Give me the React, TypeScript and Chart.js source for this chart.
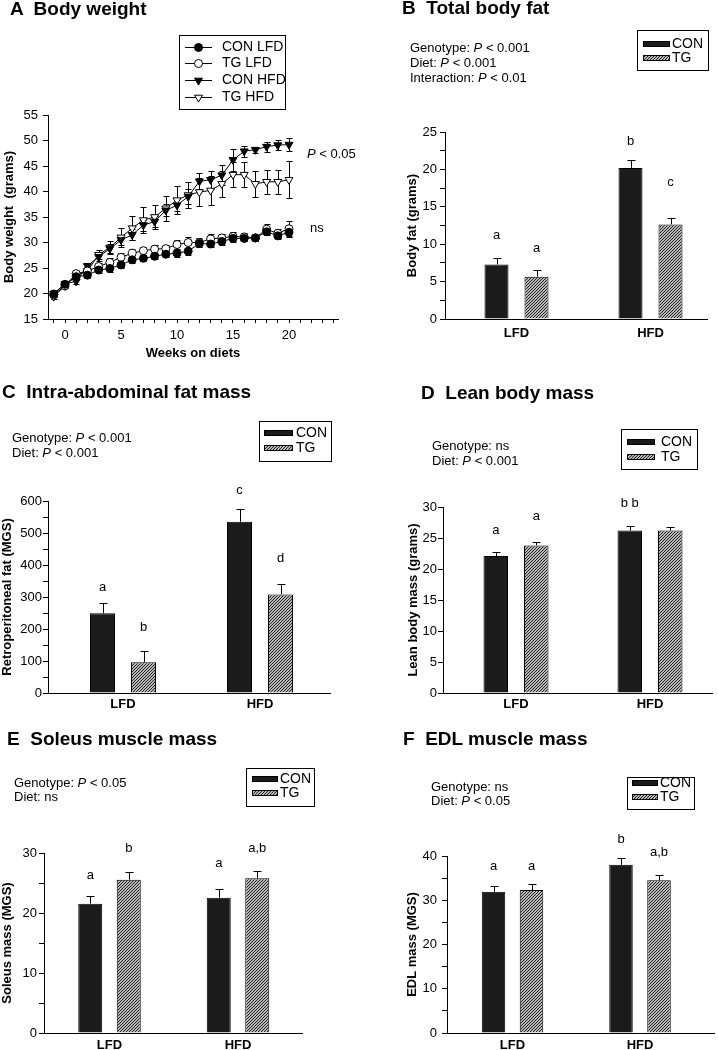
import React, { useEffect, useRef } from 'react';
import { Chart, registerables } from 'chart.js';

Chart.register(...registerables);

const FONT = '"Liberation Sans", Arial, Helvetica, sans-serif';
const CON_FILL = '#1b1b1b';

// ---------------- Panel A: body weight (line chart) ----------------
const WEEKS = [-1, 0, 1, 2, 3, 4, 5, 6, 7, 8, 9, 10, 11, 12, 13, 14, 15, 16, 17, 18, 19, 20];
const BW_CON_LFD = [19.9, 21.8, 23.3, 23.6, 24.6, 24.9, 25.6, 26.6, 26.9, 27.3, 27.7, 27.9, 28.3, 29.8, 29.7, 30.2, 30.8, 30.8, 30.9, 32.1, 31.3, 32.0];
const BW_CON_LFD_SEM = [0.4, 0.4, 0.5, 0.5, 0.6, 0.6, 0.6, 0.6, 0.6, 0.6, 0.6, 0.7, 0.7, 0.7, 0.6, 0.6, 0.7, 0.6, 0.6, 0.7, 0.7, 0.8];
const BW_TG_LFD = [19.7, 21.5, 23.9, 24.4, 25.3, 26.1, 27.1, 27.9, 28.4, 28.7, 28.8, 29.6, 30.0, 30.0, 30.7, 30.9, 31.2, 31.1, 30.9, 32.6, 31.8, 32.7];
const BW_TG_LFD_SEM = [0.4, 0.5, 0.6, 0.6, 0.7, 0.8, 0.9, 0.9, 0.8, 0.9, 0.8, 0.9, 1.0, 0.9, 0.9, 0.8, 0.8, 0.8, 0.7, 1.0, 0.9, 1.6];
const BW_CON_HFD = [20.0, 21.9, 22.4, 25.4, 27.2, 28.8, 30.5, 31.5, 33.4, 34.1, 36.3, 37.3, 39.0, 42.0, 42.3, 43.2, 46.2, 47.9, 48.2, 48.8, 49.1, 49.2];
const BW_CON_HFD_SEM = [0.3, 0.4, 0.6, 0.6, 0.8, 0.9, 1.0, 1.1, 1.1, 1.1, 1.2, 1.2, 1.4, 1.6, 1.8, 2.0, 2.2, 1.1, 0.6, 1.0, 1.0, 1.3];
const BW_TG_HFD = [19.4, 21.5, 23.5, 24.4, 27.6, 29.0, 31.0, 32.8, 34.4, 35.0, 36.7, 38.3, 39.3, 39.9, 40.2, 41.5, 43.3, 43.3, 41.5, 41.9, 41.9, 42.3];
const BW_TG_HFD_SEM = [0.4, 0.5, 0.5, 0.7, 0.9, 1.2, 1.8, 2.3, 2.5, 2.4, 2.5, 2.8, 2.6, 2.8, 2.8, 2.5, 2.4, 2.5, 2.6, 2.3, 2.4, 3.6];
const BW_SERIES_NAMES = ['CON LFD', 'TG LFD', 'CON HFD', 'TG HFD'];
const BW_X_TICKS = [-1, 0, 1, 2, 3, 4, 5, 6, 7, 8, 9, 10, 11, 12, 13, 14, 15, 16, 17, 18, 19, 20, 21, 22, 23, 24];
const BW_X_LABELS = [0, 5, 10, 15, 20];
const BW_Y_TICKS = [15, 20, 25, 30, 35, 40, 45, 50, 55];
const BW_X_TITLE = 'Weeks on diets';
const BW_Y_TITLE = 'Body weight  (grams)';

// ---------------- Bar panels ----------------
const DIETS = ['LFD', 'HFD'];
const GROUPS = ['CON', 'TG'];

// B: total body fat
const FAT_CON = [7.3, 20.2];
const FAT_CON_SEM = [0.9, 1.05];
const FAT_TG = [5.65, 12.65];
const FAT_TG_SEM = [0.9, 0.9];
const FAT_CON_LETTERS = ['a', 'b'];
const FAT_TG_LETTERS = ['a', 'c'];
const FAT_CON_LETTER_AT = [11.2, 23.7];
const FAT_TG_LETTER_AT = [9.5, 18.2];
const FAT_Y_TICKS = [0, 2.5, 5, 7.5, 10, 12.5, 15, 17.5, 20, 22.5, 25];
const FAT_Y_LABELS = [0, 5, 10, 15, 20, 25];
const FAT_STATS = [['Genotype', '< 0.001'], ['Diet', '< 0.001'], ['Interaction', '< 0.01']];

// C: retroperitoneal fat
const RP_CON = [249, 535];
const RP_CON_SEM = [31, 39];
const RP_TG = [96, 308];
const RP_TG_SEM = [35, 34];
const RP_CON_LETTERS = ['a', 'c'];
const RP_TG_LETTERS = ['b', 'd'];
const RP_CON_LETTER_AT = [331, 634];
const RP_TG_LETTER_AT = [206, 422];
const RP_Y_TICKS = [0, 50, 100, 150, 200, 250, 300, 350, 400, 450, 500, 550, 600];
const RP_Y_LABELS = [0, 100, 200, 300, 400, 500, 600];
const RP_STATS = [['Genotype', '< 0.001'], ['Diet', '< 0.001']];

// D: lean body mass
const LEAN_CON = [22.1, 26.2];
const LEAN_CON_SEM = [0.6, 0.7];
const LEAN_TG = [23.8, 26.2];
const LEAN_TG_SEM = [0.5, 0.5];
const LEAN_CON_LETTERS = ['a', 'b b'];
const LEAN_TG_LETTERS = ['a', ''];
const LEAN_CON_LETTER_AT = [26.3, 30.5];
const LEAN_TG_LETTER_AT = [28.5, 0];
const LEAN_Y_TICKS = [0, 5, 10, 15, 20, 25, 30];
const LEAN_Y_LABELS = [0, 5, 10, 15, 20, 25, 30];
const LEAN_STATS = [['Genotype', 'ns'], ['Diet', '< 0.001']];

// E: soleus
const SOL_CON = [21.55, 22.55];
const SOL_CON_SEM = [1.35, 1.5];
const SOL_TG = [25.55, 25.8];
const SOL_TG_SEM = [1.35, 1.2];
const SOL_CON_LETTERS = ['a', 'a'];
const SOL_TG_LETTERS = ['b', 'a,b'];
const SOL_CON_LETTER_AT = [26.2, 28.3];
const SOL_TG_LETTER_AT = [30.7, 30.7];
const SOL_Y_TICKS = [0, 5, 10, 15, 20, 25, 30];
const SOL_Y_LABELS = [0, 10, 20, 30];
const SOL_STATS = [['Genotype', '< 0.05'], ['Diet', 'ns']];

// F: EDL
const EDL_CON = [31.9, 38.0];
const EDL_CON_SEM = [1.4, 1.6];
const EDL_TG = [32.3, 34.5];
const EDL_TG_SEM = [1.4, 1.2];
const EDL_CON_LETTERS = ['a', 'b'];
const EDL_TG_LETTERS = ['a', 'a,b'];
const EDL_CON_LETTER_AT = [37.7, 43.8];
const EDL_TG_LETTER_AT = [37.7, 40.7];
const EDL_Y_TICKS = [0, 5, 10, 15, 20, 25, 30, 35, 40];
const EDL_Y_LABELS = [0, 10, 20, 30, 40];
const EDL_STATS = [['Genotype', 'ns'], ['Diet', '< 0.05']];

// ---------------- Layout (page pixel coordinates) ----------------
const LAYOUT_A = {
  canvas: { x: 0, y: 0, w: 359, h: 372 },
  area: { l: 48, r: 338, t: 115, b: 319 },
  week0X: 65,
  weekPx: 11.2,
  yTitleX: 9,
  xTitleY: 353,
  xLabelY: 335,
  legend: { box: [179, 35, 106, 74], rows: [47, 63, 80, 97], patchX: 185, patchW: 27, textX: 222 },
};

const LAYOUT_B = {
  canvas: { x: 359, y: 0, w: 359, h: 350 },
  area: { l: 445, r: 707, t: 132, b: 319 },
  centers: [516.5, 650.5], chunk: 40, barW: 24, yTitleX: 412, tickPad: 3, xLabelY: 333,
  legend: { box: [637, 30, 71, 40], rows: [44, 58], patchX: 643, patchW: 27, textX: 672 },
};
const LAYOUT_C = {
  canvas: { x: 0, y: 372, w: 359, h: 348 },
  area: { l: 48, r: 330, t: 501, b: 693 },
  centers: [123, 260], chunk: 41, barW: 25, yTitleX: 7, tickPad: 1, xLabelY: 704,
  legend: { box: [259, 421, 72, 40], rows: [433, 448], patchX: 264, patchW: 29, textX: 296 },
};
const LAYOUT_D = {
  canvas: { x: 359, y: 350, w: 359, h: 370 },
  area: { l: 443, r: 712, t: 507, b: 693 },
  centers: [516, 650], chunk: 40.5, barW: 24.5, yTitleX: 413, tickPad: 1, xLabelY: 704,
  legend: { box: [621, 429, 76, 40], rows: [442, 457], patchX: 627, patchW: 28, textX: 661 },
};
const LAYOUT_E = {
  canvas: { x: 0, y: 720, w: 359, h: 330 },
  area: { l: 44, r: 302, t: 853, b: 1033 },
  centers: [109.5, 238], chunk: 38.5, barW: 24, yTitleX: 7, tickPad: 2, xLabelY: 1045,
  legend: { box: [246, 768, 68, 38], rows: [779, 793], patchX: 252, patchW: 26, textX: 280 },
};
const LAYOUT_F = {
  canvas: { x: 359, y: 720, w: 359, h: 330 },
  area: { l: 447, r: 714, t: 856, b: 1033 },
  centers: [512.5, 640], chunk: 38, barW: 23.5, yTitleX: 412, tickPad: 5, xLabelY: 1045,
  legend: { box: [627, 777, 67, 32], rows: [783, 797], patchX: 632, patchW: 26, textX: 660 },
};

const BAR_PANELS = [
  {
    key: 'B', layout: LAYOUT_B, yTitle: 'Body fat (grams)', yTicks: FAT_Y_TICKS, yLabels: FAT_Y_LABELS,
    con: FAT_CON, conSem: FAT_CON_SEM, conLetters: FAT_CON_LETTERS, conLetterAt: FAT_CON_LETTER_AT,
    tg: FAT_TG, tgSem: FAT_TG_SEM, tgLetters: FAT_TG_LETTERS, tgLetterAt: FAT_TG_LETTER_AT,
  },
  {
    key: 'C', layout: LAYOUT_C, yTitle: 'Retroperitoneal fat (MGS)', yTicks: RP_Y_TICKS, yLabels: RP_Y_LABELS,
    con: RP_CON, conSem: RP_CON_SEM, conLetters: RP_CON_LETTERS, conLetterAt: RP_CON_LETTER_AT,
    tg: RP_TG, tgSem: RP_TG_SEM, tgLetters: RP_TG_LETTERS, tgLetterAt: RP_TG_LETTER_AT,
  },
  {
    key: 'D', layout: LAYOUT_D, yTitle: 'Lean body mass (grams)', yTicks: LEAN_Y_TICKS, yLabels: LEAN_Y_LABELS,
    con: LEAN_CON, conSem: LEAN_CON_SEM, conLetters: LEAN_CON_LETTERS, conLetterAt: LEAN_CON_LETTER_AT,
    tg: LEAN_TG, tgSem: LEAN_TG_SEM, tgLetters: LEAN_TG_LETTERS, tgLetterAt: LEAN_TG_LETTER_AT,
  },
  {
    key: 'E', layout: LAYOUT_E, yTitle: 'Soleus mass (MGS)', yTicks: SOL_Y_TICKS, yLabels: SOL_Y_LABELS,
    con: SOL_CON, conSem: SOL_CON_SEM, conLetters: SOL_CON_LETTERS, conLetterAt: SOL_CON_LETTER_AT,
    tg: SOL_TG, tgSem: SOL_TG_SEM, tgLetters: SOL_TG_LETTERS, tgLetterAt: SOL_TG_LETTER_AT,
  },
  {
    key: 'F', layout: LAYOUT_F, yTitle: 'EDL mass (MGS)', yTicks: EDL_Y_TICKS, yLabels: EDL_Y_LABELS,
    con: EDL_CON, conSem: EDL_CON_SEM, conLetters: EDL_CON_LETTERS, conLetterAt: EDL_CON_LETTER_AT,
    tg: EDL_TG, tgSem: EDL_TG_SEM, tgLetters: EDL_TG_LETTERS, tgLetterAt: EDL_TG_LETTER_AT,
  },
];

const TITLES = [
  { text: 'A  Body weight', x: 10, base: 15 },
  { text: 'B  Total body fat', x: 402, base: 14 },
  { text: 'C  Intra-abdominal fat mass', x: 2, base: 398 },
  { text: 'D  Lean body mass', x: 421, base: 399 },
  { text: 'E  Soleus muscle mass', x: 7, base: 745 },
  { text: 'F  EDL muscle mass', x: 403, base: 745 },
];

const STAT_BLOCKS = [
  { lines: FAT_STATS, x: 410, base: [52, 67, 82] },
  { lines: RP_STATS, x: 12, base: [442, 457] },
  { lines: LEAN_STATS, x: 432, base: [450, 465] },
  { lines: SOL_STATS, x: 14, base: [787, 801] },
  { lines: EDL_STATS, x: 431, base: [791, 805] },
];

const BW_NOTES = [
  { p: '< 0.05', x: 307, base: 158 },
  { p: 'ns', x: 310, base: 232 },
];

// ---------------- helpers ----------------
function makeHatch(): any {
  const c = document.createElement('canvas');
  c.width = 3;
  c.height = 3;
  const g = c.getContext('2d');
  if (!g) return '#888';
  g.fillStyle = '#b4b4b4';
  g.fillRect(0, 0, 3, 3);
  g.strokeStyle = '#2a2a2a';
  g.lineWidth = 1;
  g.beginPath();
  g.moveTo(0, 3); g.lineTo(3, 0);
  g.moveTo(-1, 1); g.lineTo(1, -1);
  g.moveTo(2, 4); g.lineTo(4, 2);
  g.stroke();
  return g.createPattern(c, 'repeat') || '#888';
}

function drawMarker(ctx: CanvasRenderingContext2D, ds: any, x: number, y: number) {
  const r = ds.pointRadius;
  ctx.save();
  ctx.fillStyle = ds.pointBackgroundColor;
  ctx.strokeStyle = ds.pointBorderColor;
  ctx.lineWidth = 1;
  ctx.beginPath();
  if (ds.pointStyle === 'triangle') {
    let a = ((ds.pointRotation || 0) * Math.PI) / 180;
    ctx.moveTo(x + Math.sin(a) * r, y - Math.cos(a) * r);
    a += (2 * Math.PI) / 3;
    ctx.lineTo(x + Math.sin(a) * r, y - Math.cos(a) * r);
    a += (2 * Math.PI) / 3;
    ctx.lineTo(x + Math.sin(a) * r, y - Math.cos(a) * r);
    ctx.closePath();
  } else {
    ctx.arc(x, y, r, 0, Math.PI * 2);
  }
  ctx.fill();
  ctx.stroke();
  ctx.restore();
}

function drawErrors(chart: any, opts: any) {
  const { ctx } = chart;
  const ys = chart.scales.y;
  ctx.save();
  ctx.strokeStyle = '#000';
  ctx.lineWidth = 1;
  chart.data.datasets.forEach((ds: any, di: number) => {
    if (!ds.sem) return;
    const meta = chart.getDatasetMeta(di);
    meta.data.forEach((el: any, i: number) => {
      const v = ds.data[i].y;
      const e = ds.sem[i];
      const x = Math.round(el.x) + 0.5;
      const top = Math.round(ys.getPixelForValue(v + e)) + 0.5;
      const bot = opts.both ? Math.round(ys.getPixelForValue(v - e)) + 0.5 : ys.getPixelForValue(v);
      ctx.beginPath();
      ctx.moveTo(x, bot);
      ctx.lineTo(x, top);
      ctx.moveTo(x - opts.cap, top);
      ctx.lineTo(x + opts.cap, top);
      if (opts.both) {
        ctx.moveTo(x - opts.cap, bot);
        ctx.lineTo(x + opts.cap, bot);
      }
      ctx.stroke();
    });
  });
  ctx.restore();
}

const errorBars = {
  id: 'errorBars',
  beforeDatasetsDraw(chart: any, _a: any, opts: any) {
    if (opts.behind) drawErrors(chart, opts);
  },
  afterDatasetsDraw(chart: any, _a: any, opts: any) {
    if (!opts.behind) drawErrors(chart, opts);
  },
};

const barLetters = {
  id: 'barLetters',
  afterDatasetsDraw(chart: any, _a: any, opts: any) {
    const { ctx } = chart;
    const ys = chart.scales.y;
    ctx.save();
    ctx.font = `${opts.size}px ${FONT}`;
    ctx.fillStyle = '#000';
    ctx.textAlign = 'center';
    ctx.textBaseline = 'middle';
    chart.data.datasets.forEach((ds: any, di: number) => {
      if (!ds.letters) return;
      chart.getDatasetMeta(di).data.forEach((el: any, i: number) => {
        const t = ds.letters[i];
        if (!t) return;
        ctx.fillText(t, el.x, ys.getPixelForValue(ds.letterAt[i]));
      });
    });
    ctx.restore();
  },
};

const boxLegend = {
  id: 'boxLegend',
  afterDraw(chart: any, _a: any, o: any) {
    const { ctx } = chart;
    ctx.save();
    ctx.strokeStyle = '#000';
    ctx.lineWidth = 1;
    ctx.strokeRect(Math.round(o.box[0]) + 0.5, Math.round(o.box[1]) + 0.5, o.box[2], o.box[3]);
    ctx.font = `${o.size}px ${FONT}`;
    ctx.textBaseline = 'middle';
    ctx.textAlign = 'left';
    chart.data.datasets.forEach((ds: any, i: number) => {
      const ry = o.rows[i];
      if (o.kind === 'line') {
        ctx.strokeStyle = '#000';
        ctx.beginPath();
        ctx.moveTo(o.patchX, Math.round(ry) + 0.5);
        ctx.lineTo(o.patchX + o.patchW, Math.round(ry) + 0.5);
        ctx.stroke();
        drawMarker(ctx, ds, o.patchX + o.patchW / 2, Math.round(ry) + 0.5);
      } else {
        const h = o.patchH;
        const top = Math.round(ry - h / 2);
        ctx.fillStyle = ds.backgroundColor;
        ctx.fillRect(o.patchX, top, o.patchW, h);
        ctx.strokeStyle = '#000';
        ctx.strokeRect(o.patchX + 0.5, top + 0.5, o.patchW - 1, h - 1);
      }
      ctx.fillStyle = '#000';
      ctx.fillText(ds.label, o.textX, ry);
    });
    ctx.restore();
  },
};

function leftFrame(canvasX: number, areaL: number, titleX: number, lh: number) {
  const tc = titleX - canvasX;
  const padLeft = Math.max(0, tc - lh / 2 - 1);
  const titlePad = Math.max(0, tc - lh / 2 - padLeft);
  return { padLeft, titlePad, axisW: areaL - canvasX - padLeft };
}

// ---------------- chart configs ----------------
function weightConfig() {
  const L = LAYOUT_A;
  const c = L.canvas;
  const lh = 13 * 1.2;
  const f = leftFrame(c.x, L.area.l, L.yTitleX, lh);
  const xMin = (L.area.l - L.week0X) / L.weekPx;
  const xMax = (L.area.r - L.week0X) / L.weekPx;
  const series = [
    { v: BW_CON_LFD, s: BW_CON_LFD_SEM, style: 'circle', fill: '#000', r: 4, rot: 0 },
    { v: BW_TG_LFD, s: BW_TG_LFD_SEM, style: 'circle', fill: '#fff', r: 4, rot: 0 },
    { v: BW_CON_HFD, s: BW_CON_HFD_SEM, style: 'triangle', fill: '#000', r: 4.6, rot: 180 },
    { v: BW_TG_HFD, s: BW_TG_HFD_SEM, style: 'triangle', fill: '#fff', r: 4.6, rot: 180 },
  ];
  const lg = L.legend;
  return {
    type: 'line',
    data: {
      datasets: series.map((s, i) => ({
        label: BW_SERIES_NAMES[i],
        data: WEEKS.map((w, j) => ({ x: w, y: s.v[j] })),
        sem: s.s,
        borderColor: '#000',
        borderWidth: 1,
        tension: 0,
        fill: false,
        pointStyle: s.style,
        pointRadius: s.r,
        pointRotation: s.rot,
        pointBackgroundColor: s.fill,
        pointBorderColor: '#000',
        pointBorderWidth: 1,
      })),
    },
    options: {
      animation: false,
      responsive: false,
      events: [],
      layout: { padding: { left: f.padLeft, top: L.area.t - c.y, right: c.x + c.w - L.area.r, bottom: 0 } },
      plugins: {
        legend: { display: false },
        tooltip: { enabled: false },
        errorBars: { both: true, cap: 3, behind: true },
        boxLegend: {
          kind: 'line',
          box: [lg.box[0] - c.x, lg.box[1] - c.y, lg.box[2], lg.box[3]],
          rows: lg.rows.map((r) => r - c.y),
          patchX: lg.patchX - c.x,
          patchW: lg.patchW,
          textX: lg.textX - c.x,
          size: 14,
        },
      },
      scales: {
        x: {
          type: 'linear',
          min: xMin,
          max: xMax,
          afterBuildTicks: (s: any) => {
            s.ticks = BW_X_TICKS.map((v) => ({ value: v }));
          },
          afterFit: (s: any) => {
            s.height = c.y + c.h - L.area.b;
          },
          grid: { drawOnChartArea: false, color: '#000', tickLength: 4, lineWidth: 1 },
          border: { display: true, color: '#000', width: 1 },
          ticks: {
            autoSkip: false,
            maxRotation: 0,
            minRotation: 0,
            padding: L.xLabelY - L.area.b - 4 - lh / 2,
            color: '#000',
            font: { family: FONT, size: 13 },
            callback: (v: number) => (BW_X_LABELS.includes(v) ? String(v) : ''),
          },
          title: {
            display: true,
            text: BW_X_TITLE,
            color: '#000',
            font: { family: FONT, size: 13, weight: 'bold' },
            padding: { top: 0, bottom: c.y + c.h - L.xTitleY - lh / 2 },
          },
        },
        y: {
          type: 'linear',
          min: BW_Y_TICKS[0],
          max: BW_Y_TICKS[BW_Y_TICKS.length - 1],
          afterBuildTicks: (s: any) => {
            s.ticks = BW_Y_TICKS.map((v) => ({ value: v }));
          },
          afterFit: (s: any) => {
            s.width = f.axisW;
          },
          grid: { drawOnChartArea: false, color: '#000', tickLength: 5, lineWidth: 1 },
          border: { display: true, color: '#000', width: 1 },
          ticks: { autoSkip: false, padding: 5, color: '#000', font: { family: FONT, size: 13 }, callback: (v: number) => String(v) },
          title: {
            display: true,
            text: BW_Y_TITLE,
            color: '#000',
            font: { family: FONT, size: 13, weight: 'bold' },
            padding: { top: f.titlePad, bottom: 0 },
          },
        },
      },
    },
    plugins: [errorBars, boxLegend],
  };
}

function barConfig(d: any) {
  const L = d.layout;
  const c = L.canvas;
  const lh = 13 * 1.2;
  const f = leftFrame(c.x, L.area.l, L.yTitleX, lh);
  const unit = L.centers[1] - L.centers[0];
  const xMin = 1 - (L.centers[0] - L.area.l) / unit;
  const xMax = 2 + (L.area.r - L.centers[1]) / unit;
  const hatch = makeHatch();
  const lg = L.legend;
  const yMax = d.yTicks[d.yTicks.length - 1];
  return {
    type: 'bar',
    data: {
      datasets: [
        {
          label: GROUPS[0],
          data: DIETS.map((_, i) => ({ x: i + 1, y: d.con[i] })),
          sem: d.conSem,
          letters: d.conLetters,
          letterAt: d.conLetterAt,
          backgroundColor: CON_FILL,
          borderColor: '#000',
          borderWidth: 1,
          borderSkipped: 'bottom',
        },
        {
          label: GROUPS[1],
          data: DIETS.map((_, i) => ({ x: i + 1, y: d.tg[i] })),
          sem: d.tgSem,
          letters: d.tgLetters,
          letterAt: d.tgLetterAt,
          backgroundColor: hatch,
          borderColor: '#000',
          borderWidth: 1,
          borderSkipped: 'bottom',
        },
      ],
    },
    options: {
      animation: false,
      responsive: false,
      events: [],
      categoryPercentage: (2 * L.chunk) / unit,
      barPercentage: L.barW / L.chunk,
      layout: { padding: { left: f.padLeft, top: L.area.t - c.y, right: c.x + c.w - L.area.r, bottom: 0 } },
      plugins: {
        legend: { display: false },
        tooltip: { enabled: false },
        errorBars: { both: false, cap: 4, behind: false },
        barLetters: { size: 13 },
        boxLegend: {
          kind: 'bar',
          box: [lg.box[0] - c.x, lg.box[1] - c.y, lg.box[2], lg.box[3]],
          rows: lg.rows.map((r: number) => r - c.y),
          patchX: lg.patchX - c.x,
          patchW: lg.patchW,
          patchH: 6,
          textX: lg.textX - c.x,
          size: 14,
        },
      },
      scales: {
        x: {
          type: 'linear',
          min: xMin,
          max: xMax,
          offset: false,
          afterBuildTicks: (s: any) => {
            s.ticks = DIETS.map((_, i) => ({ value: i + 1 }));
          },
          afterFit: (s: any) => {
            s.height = c.y + c.h - L.area.b;
          },
          grid: { display: false, drawTicks: false, offset: false },
          border: { display: true, color: '#000', width: 1 },
          ticks: {
            autoSkip: false,
            maxRotation: 0,
            minRotation: 0,
            padding: L.xLabelY - L.area.b - lh / 2,
            color: '#000',
            font: { family: FONT, size: 13, weight: 'bold' },
            callback: (v: number) => DIETS[Math.round(v) - 1] ?? '',
          },
        },
        y: {
          type: 'linear',
          min: 0,
          max: yMax,
          afterBuildTicks: (s: any) => {
            s.ticks = d.yTicks.map((v: number) => ({ value: v }));
          },
          afterFit: (s: any) => {
            s.width = f.axisW;
          },
          grid: { drawOnChartArea: false, color: '#000', tickLength: 5, lineWidth: 1 },
          border: { display: true, color: '#000', width: 1 },
          ticks: {
            autoSkip: false,
            padding: L.tickPad,
            color: '#000',
            font: { family: FONT, size: 13 },
            callback: (v: number) => (d.yLabels.includes(v) ? String(v) : ''),
          },
          title: {
            display: true,
            text: d.yTitle,
            color: '#000',
            font: { family: FONT, size: 13, weight: 'bold' },
            padding: { top: f.titlePad, bottom: 0 },
          },
        },
      },
    },
    plugins: [errorBars, barLetters, boxLegend],
  };
}

// ---------------- components ----------------
function ChartBox({ box, make }: { box: { x: number; y: number; w: number; h: number }; make: () => any }) {
  const ref = useRef<HTMLCanvasElement>(null);
  useEffect(() => {
    if (!ref.current) return;
    const chart = new Chart(ref.current, make());
    return () => chart.destroy();
  }, []);
  return (
    <canvas
      ref={ref}
      width={box.w}
      height={box.h}
      style={{ position: 'absolute', left: box.x, top: box.y, width: box.w, height: box.h }}
    />
  );
}

function TextAt({ x, base, size, bold, children }: any) {
  return (
    <div
      style={{
        position: 'absolute',
        left: x,
        top: base - 0.8464 * size,
        fontFamily: FONT,
        fontSize: size,
        lineHeight: `${size}px`,
        fontWeight: bold ? 'bold' : 'normal',
        whiteSpace: 'pre',
        color: '#000',
      }}
    >
      {children}
    </div>
  );
}

function statText(name: string, p: string) {
  if (p === 'ns') return `${name}: ns`;
  return (
    <>
      {name}: <i>P</i> {p}
    </>
  );
}

export default function App() {
  return (
    <div style={{ position: 'absolute', left: 0, top: 0, width: 718, height: 1050, background: '#fff', overflow: 'hidden' }}>
      <ChartBox box={LAYOUT_A.canvas} make={weightConfig} />
      {BAR_PANELS.map((p) => (
        <ChartBox key={p.key} box={p.layout.canvas} make={() => barConfig(p)} />
      ))}
      {TITLES.map((t) => (
        <TextAt key={t.text} x={t.x} base={t.base} size={19} bold>
          {t.text}
        </TextAt>
      ))}
      {STAT_BLOCKS.map((b, bi) =>
        b.lines.map((ln, li) => (
          <TextAt key={`s${bi}-${li}`} x={b.x} base={b.base[li]} size={13}>
            {statText(ln[0], ln[1])}
          </TextAt>
        ))
      )}
      {BW_NOTES.map((n) => (
        <TextAt key={n.p} x={n.x} base={n.base} size={13}>
          {n.p === 'ns' ? 'ns' : (
            <>
              <i>P</i> {n.p}
            </>
          )}
        </TextAt>
      ))}
    </div>
  );
}
